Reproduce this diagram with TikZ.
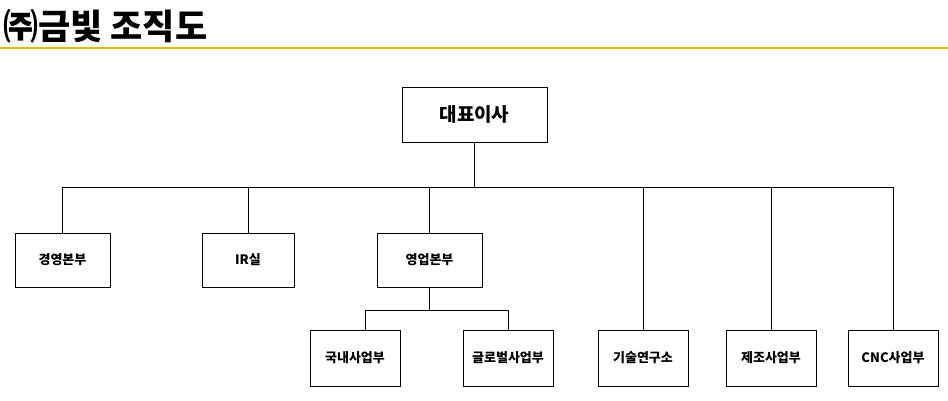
\documentclass[tikz,border=0pt]{standalone}
\usepackage{fontspec}
\setmainfont{Noto Sans CJK KR}
\usetikzlibrary{calc}
\definecolor{titleline}{RGB}{230,185,0}

\tikzset{
  orgbox/.style={draw,thick,minimum height=54pt,inner sep=2pt,font=\bfseries\fontsize{13}{15}\selectfont},
  link/.style={line width=0.8pt}
}

\begin{document}
\begin{tikzpicture}[x=1pt,y=-1pt]
    \useasboundingbox (0,0) rectangle (948,401);

    % Title
    \node[anchor=west,inner sep=0pt,font=\bfseries\fontsize{35}{40}\selectfont] (title) at (3,26) {㈜금빛 조직도};
    \draw[titleline,line width=1.5pt] (0,48) -- (948,48);

    % CEO
    \node[orgbox,minimum width=145pt,minimum height=55pt,font=\bfseries\fontsize{19}{22}\selectfont] (ceo) at (474.5,114.5) {대표이사};

    % Divisions
    \node[orgbox,minimum width=95pt] (mgmt) at (62.5,260) {경영본부};
    \node[orgbox,minimum width=92pt] (ir) at (248,260) {IR실};
    \node[orgbox,minimum width=105pt] (sales) at (429.5,260) {영업본부};

    % Departments
    \node[orgbox,minimum width=90pt,minimum height=56pt] (dom) at (355,358) {국내사업부};
    \node[orgbox,minimum width=90pt,minimum height=56pt] (glob) at (508,358) {글로벌사업부};
    \node[orgbox,minimum width=90pt,minimum height=56pt] (lab) at (643,358) {기술연구소};
    \node[orgbox,minimum width=90pt,minimum height=56pt] (mfg) at (771,358) {제조사업부};
    \node[orgbox,minimum width=90pt,minimum height=56pt] (cnc) at (893,358) {CNC사업부};

    % Main bus
    \coordinate (bus) at (474.5,187);
    \draw[link] (ceo.south) -- (bus);
    \draw[link] (mgmt.north |- bus) -- (cnc.north |- bus);
    \foreach \n in {mgmt,ir,sales,lab,mfg,cnc}
        \draw[link] (\n.north |- bus) -- (\n.north);

    % Sales bus
    \coordinate (sbus) at (429.5,310);
    \draw[link] ([xshift=10pt]dom.north |- sbus) -- (glob.north |- sbus);
    \draw[link] (sales.south) -- (sbus);
    \draw[link] ([xshift=10pt]dom.north |- sbus) -- ([xshift=10pt]dom.north);
    \draw[link] (glob.north |- sbus) -- (glob.north);

\end{tikzpicture}
\end{document}
